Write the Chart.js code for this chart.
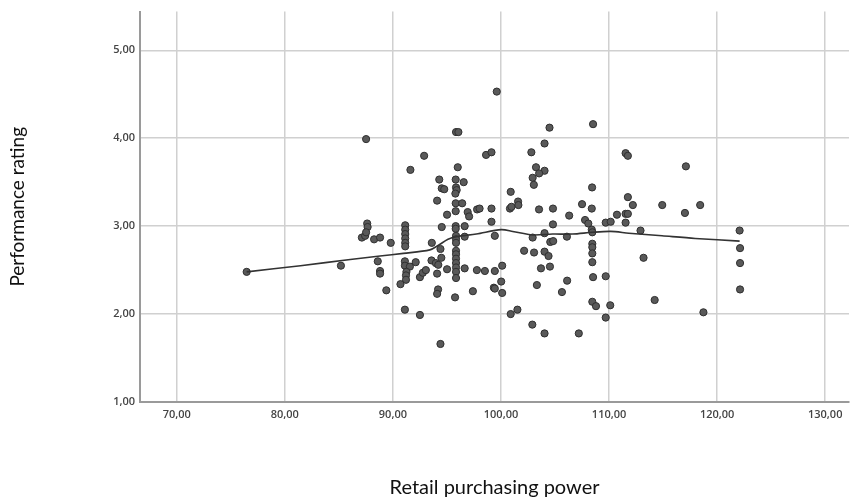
<!DOCTYPE html>
<html>
<head>
<meta charset="utf-8">
<script src="https://cdn.jsdelivr.net/npm/chart.js@4.4.1/dist/chart.umd.min.js"></script>
<style>
    html, body { margin: 0; padding: 0; background: #fff; }
    #wrap { width: 854px; height: 501px; }
</style>
</head>
<body>
<div id="wrap"><canvas id="chart" width="854" height="501"></canvas></div>
<script>
// Retail purchasing power (x) vs performance rating (y)
const purchasingPower = [
    76.47, 85.19, 87.52, 87.13, 87.43, 87.62, 87.66, 87.52, 88.26, 88.81,
    89.80, 88.60, 88.81, 88.81, 89.39, 91.62, 92.89,
    91.14, 91.14, 91.14, 91.14, 91.14, 91.14,
    91.11, 91.11, 91.57, 92.11, 91.25, 91.21, 91.21, 90.70, 91.11, 92.50, 94.40,
    92.50, 92.77, 93.05, 93.57, 93.97, 94.20, 94.48, 93.60, 94.40, 94.09, 95.01,
    94.18, 94.09, 95.75,
    95.84, 96.06, 96.00, 94.29, 95.81, 96.55, 94.52, 94.75, 95.84, 95.90, 95.78,
    94.09, 95.81, 96.41, 95.01, 95.81, 96.92, 97.05, 97.79, 98.62, 99.12, 99.61,
    94.52, 95.81, 95.81, 96.64,
    95.84, 95.84, 95.84, 95.84, 95.84, 95.84, 95.84, 95.84, 95.84, 95.84,
    96.64, 96.64, 97.77, 98.51, 99.43, 97.40, 99.34, 99.43, 100.02, 100.11,
    100.11, 99.12, 99.43, 98.02, 99.12, 100.83, 100.97, 101.58, 101.61, 100.90,
    102.81, 104.03, 104.49, 108.52, 103.24, 104.03, 103.53, 102.93, 103.04, 108.43,
    103.52, 104.81, 107.50, 108.40, 106.31, 107.78, 108.08, 104.81, 108.40, 108.45,
    102.93, 104.03, 106.10, 108.45, 108.45, 108.45, 108.45, 108.52,
    102.14, 103.06, 104.03, 104.40, 104.56, 104.83, 103.70, 104.53,
    109.69, 110.15, 110.73, 111.53, 111.74, 111.53, 111.74, 112.20, 111.53, 111.74,
    114.92, 117.02, 118.43, 117.11, 112.91, 113.19, 109.69,
    103.32, 106.12, 105.64, 108.45, 108.79, 110.11, 109.69,
    100.90, 101.52, 102.90, 104.03, 107.20, 114.22, 118.73,
    122.08, 122.12, 122.12, 122.12
];
const performanceRating = [
    2.48, 2.55, 3.99, 2.87, 2.89, 3.03, 2.99, 2.93, 2.85, 2.87,
    2.81, 2.60, 2.49, 2.46, 2.27, 3.64, 3.80,
    3.01, 2.96, 2.91, 2.86, 2.81, 2.77,
    2.60, 2.55, 2.54, 2.59, 2.48, 2.44, 2.39, 2.34, 2.05, 1.99, 1.66,
    2.42, 2.47, 2.50, 2.61, 2.58, 2.56, 2.64, 2.81, 2.74, 2.46, 2.51,
    2.28, 2.23, 2.19,
    4.07, 4.07, 3.67, 3.53, 3.53, 3.50, 3.43, 3.42, 3.44, 3.41, 3.37,
    3.29, 3.26, 3.26, 3.13, 3.17, 3.16, 3.11, 3.19, 3.81, 3.84, 4.53,
    2.99, 3.00, 2.97, 3.00,
    2.89, 2.85, 2.81, 2.72, 2.68, 2.63, 2.58, 2.53, 2.48, 2.41,
    2.88, 2.52, 2.50, 2.49, 2.49, 2.26, 2.30, 2.29, 2.37, 2.24,
    2.55, 3.05, 2.89, 3.20, 3.20, 3.20, 3.22, 3.28, 3.24, 3.39,
    3.84, 3.94, 4.12, 4.16, 3.67, 3.63, 3.60, 3.55, 3.47, 3.44,
    3.19, 3.20, 3.25, 3.20, 3.12, 3.07, 3.03, 3.02, 2.96, 2.93,
    2.87, 2.92, 2.88, 2.80, 2.76, 2.69, 2.59, 2.42,
    2.72, 2.70, 2.71, 2.66, 2.82, 2.83, 2.52, 2.54,
    3.04, 3.05, 3.13, 3.14, 3.14, 3.04, 3.33, 3.24, 3.83, 3.80,
    3.24, 3.15, 3.24, 3.68, 2.95, 2.64, 2.43,
    2.33, 2.38, 2.25, 2.14, 2.09, 2.10, 1.96,
    2.00, 2.05, 1.88, 1.78, 1.78, 2.16, 2.02,
    2.95, 2.75, 2.58, 2.28
];

// Loess fit line
const fitX = [76.47, 81.45, 86.05, 88.81, 90.96, 93.42, 94.18, 95.10, 95.87, 97.72,
    100.02, 101.09, 102.93, 104.77, 106.61, 108.45, 110.15, 111.83, 114.90, 117.97, 122.08];
const fitY = [2.48, 2.55, 2.62, 2.66, 2.69, 2.73, 2.78, 2.85, 2.88, 2.91,
    2.96, 2.94, 2.90, 2.91, 2.91, 2.93, 2.94, 2.92, 2.89, 2.86, 2.83];

const xTicks = [70, 80, 90, 100, 110, 120, 130];
const yTicks = [1, 2, 3, 4, 5];

const formatComma = (v) => v.toFixed(2).replace('.', ',');

const points = purchasingPower.map((x, i) => ({ x: x, y: performanceRating[i] }));
const fitLine = fitX.map((x, i) => ({ x: x, y: fitY[i] }));

const tickFont = { family: '"Open Sans", "DejaVu Sans", sans-serif', size: 11, weight: '600' };

new Chart(document.getElementById('chart').getContext('2d'), {
    type: 'scatter',
    data: {
        datasets: [{
            type: 'line',
            data: fitLine,
            borderColor: '#333333',
            borderWidth: 1.6,
            pointRadius: 0,
            fill: false,
            tension: 0.3,
            order: 0
        }, {
            data: points,
            backgroundColor: '#595959',
            borderColor: '#2f2f2f',
            borderWidth: 1,
            pointRadius: 3.6,
            order: 1
        }]
    },
    options: {
        responsive: false,
        animation: false,
        layout: { padding: { top: 10, right: 2, left: 0, bottom: 0 } },
        plugins: {
            legend: { display: false },
            tooltip: { enabled: false }
        },
        scales: {
            x: {
                type: 'linear',
                min: 66.6,
                max: 132.2,
                afterBuildTicks: (scale) => { scale.ticks = xTicks.map(v => ({ value: v })); },
                afterFit: (scale) => { scale.height = 99; },
                grid: { color: '#d0d0d0', lineWidth: 1.5, drawTicks: false },
                border: { color: '#9a9a9a', width: 2 },
                ticks: {
                    padding: 6,
                    color: '#444',
                    font: tickFont,
                    maxRotation: 0,
                    callback: (v) => formatComma(v)
                },
                title: {
                    display: true,
                    text: 'Retail purchasing power',
                    color: '#111',
                    font: { family: 'Lato, "Open Sans", sans-serif', size: 20 },
                    padding: { top: 0, bottom: 1 }
                }
            },
            y: {
                type: 'linear',
                min: 1,
                max: 5.44,
                afterBuildTicks: (scale) => { scale.ticks = yTicks.map(v => ({ value: v })); },
                afterFit: (scale) => { scale.width = 140; },
                grid: { color: '#d0d0d0', lineWidth: 1.5, drawTicks: false },
                border: { color: '#9a9a9a', width: 2 },
                ticks: {
                    padding: 5,
                    color: '#444',
                    font: tickFont,
                    callback: (v) => formatComma(v)
                },
                title: {
                    display: true,
                    text: 'Performance rating',
                    color: '#111',
                    font: { family: 'Lato, "Open Sans", sans-serif', size: 19 },
                    padding: { top: 6, bottom: 0 }
                }
            }
        }
    }
});
</script>
</body>
</html>
